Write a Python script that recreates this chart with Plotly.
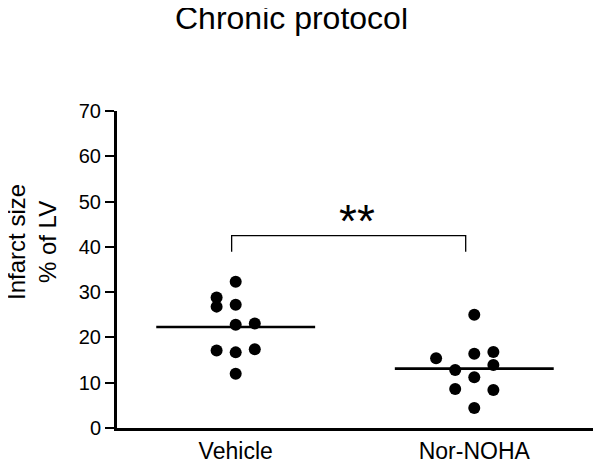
import plotly.graph_objects as go

# ---- data ----
categories = ["Vehicle", "Nor-NOHA"]
vehicle_values = [32.3, 28.8, 26.8, 27.2, 22.8, 23.1, 17.1, 16.7, 17.4, 12.0]
vehicle_cols = [0, -1, -1, 0, 0, 1, -1, 0, 1, 0]
nornoha_values = [25.0, 15.4, 16.4, 16.8, 13.9, 12.8, 11.2, 8.6, 8.4, 4.4]
nornoha_cols = [0, -2, 0, 1, 1, -1, 0, -1, 1, 0]
group_means = [22.3, 13.1]
y_ticks = [0, 10, 20, 30, 40, 50, 60, 70]
bracket_top = 42.5
bracket_bottom = 38.9
significance = "**"

FONT = "Arial, Liberation Sans, Helvetica, sans-serif"
col_step = 0.08
mean_half = 0.333
pos = [1, 2]

fig = go.Figure()

groups = [(vehicle_values, vehicle_cols), (nornoha_values, nornoha_cols)]
for gi, (vals, cols) in enumerate(groups):
    fig.add_trace(go.Scatter(
        x=[pos[gi] + c * col_step for c in cols], y=vals, mode="markers",
        marker=dict(size=12, color="black"), showlegend=False, hoverinfo="y"))
    fig.add_trace(go.Scatter(
        x=[pos[gi] - mean_half, pos[gi] + mean_half],
        y=[group_means[gi], group_means[gi]], mode="lines",
        line=dict(color="black", width=2.7), showlegend=False, hoverinfo="skip"))

# significance bracket
bx0, bx1 = pos[0] - 0.017, pos[1] - 0.036
fig.add_trace(go.Scatter(
    x=[bx0, bx0, bx1, bx1], y=[bracket_bottom, bracket_top, bracket_top, bracket_bottom],
    mode="lines", line=dict(color="black", width=1.3), showlegend=False, hoverinfo="skip"))

fig.add_annotation(x=(bx0 + bx1) / 2 + 0.035, y=45.8, xref="x", yref="y", text=significance,
                   showarrow=False, font=dict(family=FONT, size=46, color="black"),
                   xanchor="center", yanchor="middle")

fig.add_annotation(x=0.366, y=1.293, xref="paper", yref="paper", text="Chronic protocol",
                   showarrow=False, font=dict(family=FONT, size=32, color="black"),
                   xanchor="center", yanchor="middle")

fig.add_annotation(x=-0.178, y=0.5866, xref="paper", yref="paper",
                   text="Infarct size<br>% of LV", textangle=-90,
                   showarrow=False, font=dict(family=FONT, size=24, color="black"),
                   xanchor="center", yanchor="middle")

# the page body adds an 8 px offset, so the figure is laid out 8 px up/left
fig.update_layout(
    width=593, height=459,
    margin=dict(l=109, r=6, t=103, b=39, autoexpand=False),
    plot_bgcolor="white", paper_bgcolor="white",
    font=dict(family=FONT, color="black"),
)
fig.update_xaxes(range=[0.5025, 2.506], tickvals=pos, ticktext=categories,
                 showgrid=False, zeroline=False, showline=True, linecolor="black",
                 linewidth=3, ticks="", tickfont=dict(size=23, family=FONT),
                 automargin=False)
fig.update_yaxes(range=[0, 70], tickvals=y_ticks, showgrid=False, zeroline=False,
                 showline=True, linecolor="black", linewidth=3, ticks="outside",
                 ticklen=9, tickwidth=2, tickcolor="black",
                 tickfont=dict(size=20, family=FONT), automargin=False)

fig.write_html("out.html")
